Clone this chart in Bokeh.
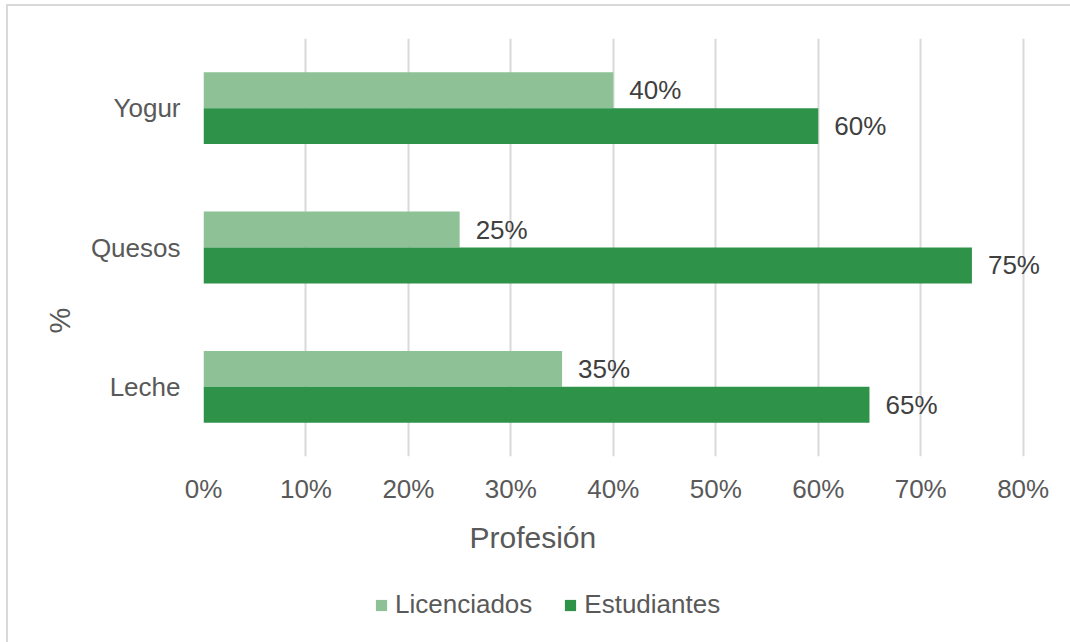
from bokeh.plotting import figure
from bokeh.layouts import column
from bokeh.models import (ColumnDataSource, FactorRange, Range1d, Title, Legend,
                          LegendItem, PrintfTickFormatter, FixedTicker)
from bokeh.transform import dodge
from bokeh.embed import file_html
from bokeh.resources import INLINE
from bokeh.core.properties import value

# ---- data ----
categories = ["Leche", "Quesos", "Yogur"]
licenciados = [35, 25, 40]
estudiantes = [65, 75, 60]
series_names = ["Licenciados", "Estudiantes"]
x_ticks = [0, 10, 20, 30, 40, 50, 60, 70, 80]
x_title = "Profesión"
y_title = "%"

LIGHT = "#8fc196"
DARK = "#2e9349"
FONT = "Liberation Sans"
TXT = "#595959"
BORDER = "#d9d9d9"

src = ColumnDataSource(dict(
    cat=categories,
    lic=licenciados,
    est=estudiantes,
    lic_txt=[f"{v}%" for v in licenciados],
    est_txt=[f"{v}%" for v in estudiantes],
))

bg = (f"linear-gradient({BORDER},{BORDER}) 6px 4px / 2px 700px no-repeat, "
      f"linear-gradient({BORDER},{BORDER}) 6px 4px / 1100px 2px no-repeat, white")

# ---------------- main chart ----------------
p = figure(width=1070, height=576,
           y_range=FactorRange(*categories), x_range=Range1d(0, 83.84),
           output_backend="svg", toolbar_location=None,
           min_border_left=203, min_border_top=38,
           min_border_right=8, min_border_bottom=120)
p.border_fill_color = None
p.background_fill_color = None

bh = 0.258
off = bh / 2
r_lic = p.hbar(y=dodge("cat", off, range=p.y_range), left=0, right="lic", height=bh,
               source=src, fill_color=LIGHT, line_color=None)
r_est = p.hbar(y=dodge("cat", -off, range=p.y_range), left=0, right="est", height=bh,
               source=src, fill_color=DARK, line_color=None)

p.text(x="lic", y=dodge("cat", off, range=p.y_range), text="lic_txt", source=src,
       x_offset=16, text_baseline="middle", text_align="left",
       text_font=value(FONT), text_font_size="26px", text_color="#404040")
p.text(x="est", y=dodge("cat", -off, range=p.y_range), text="est_txt", source=src,
       x_offset=16, text_baseline="middle", text_align="left",
       text_font=value(FONT), text_font_size="26px", text_color="#404040")

p.xaxis.ticker = FixedTicker(ticks=x_ticks)
p.xaxis.formatter = PrintfTickFormatter(format="%d%%")
for ax in (p.xaxis[0], p.yaxis[0]):
    ax.axis_line_color = None
    ax.major_tick_line_color = None
    ax.minor_tick_line_color = None
    ax.major_tick_out = 0
    ax.major_tick_in = 0
    ax.major_label_text_font = FONT
    ax.major_label_text_font_size = "26px"
    ax.major_label_text_color = TXT
p.xaxis.major_label_standoff = 17
p.yaxis.major_label_standoff = 23

p.xgrid.ticker = FixedTicker(ticks=x_ticks)
p.xgrid.grid_line_color = BORDER
p.xgrid.grid_line_width = 2
p.ygrid.grid_line_color = None
p.outline_line_color = None

p.add_layout(Title(text=x_title, align="left", offset=266, standoff=28,
                   vertical_align="top",
                   text_font=FONT, text_font_size="30px", text_color=TXT,
                   text_font_style="normal"), "below")
p.add_layout(Title(text=y_title, align="left", offset=123, standoff=24,
                   text_font=FONT, text_font_size="29px", text_color=TXT,
                   text_font_style="normal"), "left")

# ---------------- legend strip ----------------
# the legend needs renderers of its own plot: the same series, kept hidden
q = figure(width=1070, height=66, x_range=Range1d(0, 80),
           y_range=FactorRange(*categories),
           output_backend="svg", toolbar_location=None,
           x_axis_location=None, y_axis_location=None,
           min_border_left=0, min_border_right=0, min_border_top=0, min_border_bottom=0)
q.border_fill_color = None
q.background_fill_color = None
q.outline_line_color = None
q.grid.grid_line_color = None
g_lic = q.hbar(y="cat", right="lic", left=0, height=bh, source=src,
               fill_color=LIGHT, line_color=None, visible=False)
g_est = q.hbar(y="cat", right="est", left=0, height=bh, source=src,
               fill_color=DARK, line_color=None, visible=False)

legend = Legend(items=[LegendItem(label=series_names[0], renderers=[g_lic]),
                       LegendItem(label=series_names[1], renderers=[g_est])],
                orientation="horizontal", location=(171, 22),
                glyph_width=14, glyph_height=14, label_standoff=7, spacing=31,
                label_text_font=FONT, label_text_font_size="26px",
                label_text_color=TXT, border_line_color=None,
                background_fill_alpha=0, padding=0, margin=0,
                inactive_fill_alpha=0)
q.add_layout(legend, "center")

layout = column(p, q, spacing=0, styles={"background": bg})
open("out.html", "w").write(file_html(layout, INLINE))
